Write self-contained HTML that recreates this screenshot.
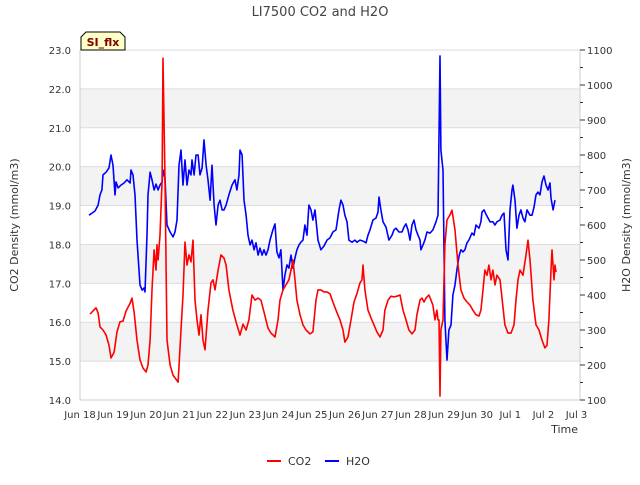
<!DOCTYPE html>
<html><head><meta charset="utf-8"><style>
body{margin:0;background:#fff;font-family:"Liberation Sans","DejaVu Sans",sans-serif}
text{font-family:"DejaVu Sans","Liberation Sans",sans-serif}
</style></head><body>
<svg id="chart" width="640" height="480" xmlns="http://www.w3.org/2000/svg">
<rect x="0" y="0" width="640" height="480" fill="#fff"/>
<g id="bands"></g>
<g id="grid"></g>
<g id="series"></g>
<g id="axes"></g>
<text x="320" y="16" text-anchor="middle" font-size="13" fill="#444">LI7500 CO2 and H2O</text>
<text transform="translate(18,225) rotate(-90)" text-anchor="middle" font-size="11" fill="#333">CO2 Density (mmol/m3)</text>
<text transform="translate(630,225) rotate(-90)" text-anchor="middle" font-size="11" fill="#333">H2O Density (mmol/m3)</text>
<text x="578" y="433" text-anchor="end" font-size="11" fill="#333">Time</text>
<g>
<path d="M81,50 L81,37 L86,32 L120,32 L125,37 L125,50 Z" fill="#ffffc8" stroke="#000" stroke-width="1"/>
<text x="103" y="46" text-anchor="middle" font-size="11" font-weight="bold" fill="#800000">SI_flx</text>
</g>
<g>
<g><line x1="267" y1="461" x2="281" y2="461" stroke="#f00" stroke-width="2"/><text x="288" y="465" font-size="11" fill="#333">CO2</text></g>
<g><line x1="325" y1="461" x2="339" y2="461" stroke="#00f" stroke-width="2"/><text x="346" y="465" font-size="11" fill="#333">H2O</text></g>
</g>
</svg>
<script>
const xTickLabels=["Jun 18","Jun 19","Jun 20","Jun 21","Jun 22","Jun 23","Jun 24","Jun 25","Jun 26","Jun 27","Jun 28","Jun 29","Jun 30","Jul 1","Jul 2","Jul 3"];
const leftTicks=[14,15,16,17,18,19,20,21,22,23];
const rightTicks=[100,200,300,400,500,600,700,800,900,1000,1100];
const co2Hours=[7.3,9.4,11.6,13.1,14.5,16.7,18.9,21.0,22.5,24.7,26.8,29.0,31.2,33.4,36.3,37.7,39.2,41.3,43.5,45.7,47.9,49.3,50.8,52.2,53.7,55.1,55.8,56.6,58.0,59.5,60.2,61.6,63.1,65.3,67.4,71.1,73.2,74.7,76.1,77.6,79.0,80.5,81.9,83.4,84.8,86.3,87.7,89.2,90.6,92.8,95.0,96.4,97.9,100.1,102.2,104.4,105.9,108.0,110.9,113.8,116.0,118.2,120.4,122.5,124.7,126.9,129.1,131.2,133.4,136.3,138.5,141.4,143.6,145.0,147.2,149.4,151.5,153.0,154.4,155.9,157.3,159.5,161.7,163.9,166.8,168.9,171.1,172.6,174.7,176.9,179.1,181.3,183.4,185.6,188.5,190.7,192.1,194.3,196.5,198.7,200.8,203.0,204.5,205.2,206.6,208.8,211.0,213.2,215.3,217.5,219.7,221.1,223.3,225.5,227.7,229.8,232.0,234.2,236.4,238.5,240.7,242.9,244.3,246.5,248.0,249.4,250.9,253.0,254.5,255.9,257.4,258.8,259.6,260.3,261.0,261.7,263.2,264.6,266.1,268.3,269.7,271.9,274.1,276.2,278.4,280.6,282.8,284.9,287.1,289.3,290.7,292.2,293.6,295.1,296.5,298.0,299.4,300.9,302.3,304.5,306.0,308.1,310.3,312.5,314.7,316.1,317.6,319.0,321.2,323.4,324.8,326.3,328.4,330.6,332.8,335.0,337.1,338.6,340.0,341.5,342.2,343.7,344.4,345.1];
const co2Values=[16.21,16.29,16.37,16.24,15.88,15.80,15.67,15.41,15.08,15.23,15.75,16.01,16.03,16.29,16.49,16.62,16.26,15.54,15.03,14.82,14.72,14.90,15.54,16.83,17.86,17.34,17.99,17.60,18.24,19.66,22.79,19.66,15.54,14.90,14.64,14.46,15.80,16.70,18.06,17.47,17.73,17.55,18.11,16.57,16.06,15.67,16.19,15.54,15.29,16.31,17.01,17.09,16.83,17.34,17.73,17.65,17.47,16.83,16.31,15.93,15.67,15.95,15.80,16.06,16.70,16.57,16.62,16.57,16.26,15.85,15.72,15.62,16.06,16.57,16.83,16.96,17.09,17.34,17.60,17.09,16.57,16.19,15.93,15.80,15.70,15.75,16.57,16.83,16.83,16.78,16.78,16.73,16.52,16.31,16.06,15.80,15.49,15.62,16.06,16.52,16.73,17.01,17.09,17.47,16.83,16.31,16.11,15.93,15.75,15.62,15.80,16.31,16.57,16.67,16.65,16.67,16.70,16.31,16.06,15.80,15.70,15.80,16.19,16.57,16.62,16.52,16.62,16.70,16.57,16.44,16.06,16.31,16.06,16.06,14.10,15.80,16.06,17.99,18.63,18.76,18.88,18.37,17.47,16.83,16.62,16.52,16.44,16.31,16.19,16.16,16.31,16.83,17.34,17.21,17.47,17.09,17.34,16.96,17.21,17.09,16.62,15.93,15.72,15.72,15.93,16.57,17.09,17.34,17.21,17.73,18.11,17.60,16.57,15.93,15.80,15.54,15.34,15.41,16.06,17.34,17.86,17.09,17.47,17.29];
const h2oHours=[6.5,8.7,10.9,13.1,14.5,15.9,16.7,18.9,21.0,22.5,23.9,25.4,26.1,27.6,29.7,31.9,34.1,36.3,37.0,38.4,39.9,41.3,43.5,45.0,46.4,47.1,48.6,49.3,50.8,52.2,53.7,55.1,56.6,58.0,59.5,60.2,61.6,63.1,65.3,67.4,68.9,70.3,71.8,73.2,74.7,76.1,77.6,79.0,80.5,81.2,82.7,84.1,85.6,87.0,88.5,89.9,91.4,92.8,94.3,95.7,97.2,98.6,100.1,101.5,103.0,104.4,105.9,108.0,110.2,112.4,113.8,115.3,116.0,117.5,118.9,120.4,121.8,123.3,124.7,126.2,127.6,129.1,130.5,132.0,133.4,134.9,136.3,137.8,139.9,141.4,142.8,144.3,145.7,147.2,148.6,150.1,151.5,153.0,154.4,155.9,157.3,158.8,160.2,161.7,163.1,164.6,166.0,167.5,168.9,170.4,172.6,174.7,176.9,179.1,181.3,183.4,185.6,187.8,189.2,190.7,192.1,193.6,195.0,197.2,199.4,200.8,203.0,205.2,207.4,208.8,210.3,212.4,214.6,216.1,216.8,218.2,219.7,221.9,224.0,226.2,227.7,229.1,231.3,233.5,234.9,236.4,237.8,239.3,240.7,242.2,243.6,245.1,246.5,247.2,248.7,250.1,251.6,253.8,255.9,258.1,259.6,261.0,261.7,263.2,264.6,266.1,267.5,269.0,270.4,271.9,273.3,274.8,276.2,277.7,279.1,280.6,282.0,284.2,285.7,287.1,289.3,290.7,291.5,292.9,294.4,295.8,297.3,299.4,300.9,302.3,304.5,306.0,307.4,308.9,310.3,311.8,313.2,313.9,315.4,316.8,318.3,319.7,321.2,322.6,324.1,326.3,327.7,329.2,330.6,332.1,333.5,335.0,336.4,337.9,339.3,340.8,341.5,343.0,344.4];
const h2oValues=[628,634,640,657,686,700,743,751,763,800,771,686,723,706,714,720,729,720,757,743,686,557,429,414,420,409,571,686,751,729,700,717,700,714,723,757,734,600,580,566,580,614,771,814,714,786,714,757,743,786,743,800,800,743,763,843,771,729,671,771,657,600,657,671,643,643,657,686,714,729,700,743,814,800,671,628,571,543,557,529,549,514,534,514,529,514,529,557,586,603,523,506,529,414,457,486,477,514,477,506,529,543,551,557,600,571,657,643,614,643,557,529,540,557,563,580,586,643,671,657,628,609,557,551,557,551,557,554,549,571,586,614,620,637,680,643,609,594,557,571,586,591,580,580,594,603,586,557,600,614,586,571,557,529,543,557,580,577,586,609,628,1083,814,757,329,214,300,314,400,429,471,511,529,523,529,549,557,577,571,600,591,609,637,643,631,620,609,609,600,609,614,628,634,529,500,643,700,714,671,591,628,643,620,609,643,628,628,651,686,694,686,723,740,714,700,720,677,643,671];

const NS="http://www.w3.org/2000/svg";
const PL=80,PR=580,PT=50,PB=400;
const xScale=h=>PL+h*(33.1/24);
const yLeft=v=>PB-(v-14)*(PB-PT)/9;
const yRight=v=>PB-(v-100)*(PB-PT)/1000;
function mk(tag,attrs,parent){const e=document.createElementNS(NS,tag);for(const k in attrs)e.setAttribute(k,attrs[k]);parent.appendChild(e);return e;}
const bands=document.getElementById('bands'),grid=document.getElementById('grid'),axes=document.getElementById('axes'),series=document.getElementById('series');
[15,17,19,21].forEach(v=>{const r=mk('rect',{x:PL,y:yLeft(v+1),width:PR-PL,height:yLeft(v)-yLeft(v+1),fill:'#f3f3f3'},bands);

});
leftTicks.forEach(v=>{const l=mk('line',{x1:PL,x2:PR,y1:yLeft(v),y2:yLeft(v),stroke:'#ddd','stroke-width':1},grid);


const t=mk('text',{x:PL-9,y:yLeft(v)+4,'text-anchor':'end','font-size':10,fill:'#333'},axes);t.textContent=v.toFixed(1);

});
mk('line',{x1:PL,x2:PL,y1:PT,y2:PB,stroke:'#ccc'},axes);
mk('line',{x1:PR,x2:PR,y1:PT,y2:PB,stroke:'#ccc'},axes);
mk('line',{x1:PL,x2:PR,y1:PB,y2:PB,stroke:'#ccc'},axes);
mk('line',{x1:PL,x2:PR,y1:PT,y2:PT,stroke:'#ddd'},axes);
rightTicks.forEach(v=>{mk('line',{x1:PR,x2:PR+5,y1:yRight(v),y2:yRight(v),stroke:'#333'},axes);
if(v<1100)mk('line',{x1:PR,x2:PR+3,y1:yRight(v+50),y2:yRight(v+50),stroke:'#333'},axes);
const t=mk('text',{x:PR+7,y:yRight(v)+4,'font-size':10,fill:'#333'},axes);t.textContent=v;

});
xTickLabels.forEach((s,i)=>{const t=mk('text',{x:xScale(i*24),y:PB+18,'text-anchor':'middle','font-size':10,fill:'#333'},axes);t.textContent=s;

});
function line(hs,vs,ys,color,name){const d=hs.map((h,i)=>(i?'L':'M')+xScale(h).toFixed(1)+','+ys(vs[i]).toFixed(1)).join(' ');
const p=mk('path',{d:d,fill:'none',stroke:color,'stroke-width':1.6,'stroke-linejoin':'round'},series);

}
line(h2oHours,h2oValues,yRight,'#0000ff','h2o-line');
line(co2Hours,co2Values,yLeft,'#ff0000','co2-line');
</script>
</body></html>
